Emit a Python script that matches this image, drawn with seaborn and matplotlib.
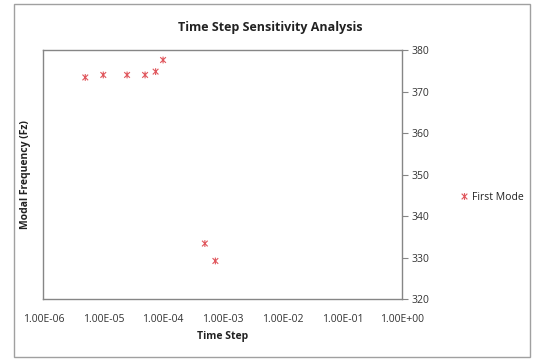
import numpy as np
import pandas as pd
import matplotlib
matplotlib.use("Agg")
import matplotlib.pyplot as plt
import seaborn as sns
from matplotlib.path import Path
from matplotlib.patches import Rectangle
from matplotlib.ticker import FuncFormatter, FixedLocator, NullLocator

# --------------------------------------------
# Data
# --------------------------------------------

time_step = [5e-6, 1e-5, 2.5e-5, 5e-5, 7.5e-5, 1e-4, 5e-4, 7.5e-4]
frequency = [373.4, 374.0, 374.0, 374.0, 374.8, 377.6, 333.4, 329.2]
series_name = "First Mode"

x_ticks = [1e-6, 1e-5, 1e-4, 1e-3, 1e-2, 1e-1, 1e0]
y_ticks = [320, 330, 340, 350, 360, 370, 380]

df = pd.DataFrame({"Time Step": time_step, "Frequency": frequency})
df["Series"] = series_name

# --------------------------------------------
# Style
# --------------------------------------------

sns.set_style("white")
plt.rcParams["font.family"] = ["Open Sans", "DejaVu Sans"]

grey = "#868686"
text_col = "#333333"
red = "#E0575D"

# Excel style star: an X with a vertical line through it
star = Path(
    [(-1, -1), (1, 1), (-1, 1), (1, -1), (0, -1.2), (0, 1.2)],
    [Path.MOVETO, Path.LINETO, Path.MOVETO, Path.LINETO, Path.MOVETO, Path.LINETO],
)

fig = plt.figure(figsize=(5.37, 3.6), dpi=100)
ax = fig.add_axes([0.081, 0.169, 0.668, 0.692])

sns.scatterplot(
    data=df, x="Time Step", y="Frequency", hue="Series",
    palette=[red], marker=star, s=24, linewidth=0.8,
    edgecolor=red, ax=ax,
)

ax.set_xscale("log")
ax.set_xlim(1e-6, 1e0)
ax.set_ylim(320, 380)

ax.xaxis.set_major_locator(FixedLocator(x_ticks))
ax.xaxis.set_minor_locator(NullLocator())
ax.xaxis.set_major_formatter(FuncFormatter(lambda v, p: f"{v:.2E}"))
ax.set_yticks(y_ticks)

ax.yaxis.tick_right()
ax.yaxis.set_label_position("left")

for s in ax.spines.values():
    s.set_visible(True)
    s.set_color(grey)
    s.set_linewidth(1.0)

ax.tick_params(axis="both", direction="out", length=4, width=0.8, color=grey,
               labelsize=7.5, labelcolor=text_col)
ax.tick_params(axis="x", pad=7)
ax.tick_params(axis="y", right=True, left=False, pad=3)

ax.set_xlabel("Time Step", fontsize=7.5, fontweight="bold", color="#222222", labelpad=4)
ax.set_ylabel("Modal Frequency (Fz)", fontsize=7.5, fontweight="bold", color="#222222", labelpad=9)

# title is centred on the whole chart, not the plot area
fig.text(270 / 537, 1 - 27 / 360, "Time Step Sensitivity Analysis", fontsize=9,
         fontweight="bold", color="#222222", ha="center", va="center")

leg = ax.legend(loc="center left", bbox_to_anchor=(1.16, 0.41), frameon=False,
                fontsize=7.5, handlelength=0.8, handletextpad=0.35, borderpad=0,
                borderaxespad=0)
for t in leg.get_texts():
    t.set_color("#222222")

# chart border
fig.patches.append(Rectangle((14 / 537, 3 / 360), 516 / 537, 353 / 360,
                             transform=fig.transFigure, fill=False,
                             edgecolor="#A0A0A0", linewidth=1.0))

fig.savefig("out.png", dpi=100)
